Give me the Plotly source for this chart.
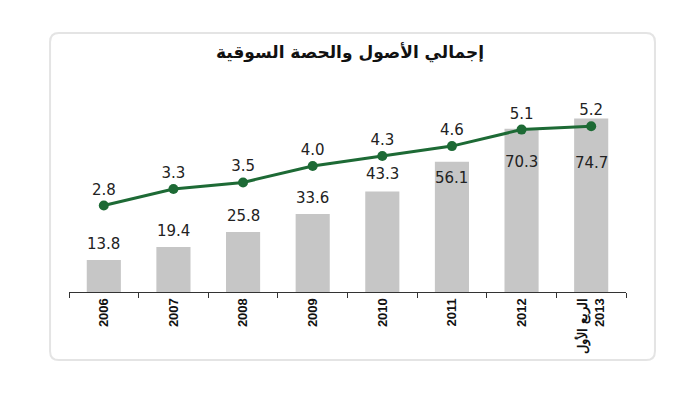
import plotly.graph_objects as go

categories = ["2006", "2007", "2008", "2009", "2010", "2011", "2012", "الربع الأول<br>2013"]
assets = [13.8, 19.4, 25.8, 33.6, 43.3, 56.1, 70.3, 74.7]
market_share = [2.8, 3.3, 3.5, 4.0, 4.3, 4.6, 5.1, 5.2]
title_text = "إجمالي الأصول والحصة السوقية"

# pixel offsets of the bar value labels (above bar for small bars, tucked under the line for tall ones)
bar_label_shift = [16, 16, 16, 16, 17, -16, -33, -44]

num_font = dict(family="DejaVu Sans", size=15, color="#222222")

fig = go.Figure()
fig.add_trace(go.Bar(
    x=categories, y=assets, width=0.49,
    marker=dict(color="#c6c6c6", line=dict(width=0)),
    showlegend=False, hoverinfo="y",
))
fig.add_trace(go.Scatter(
    x=categories, y=market_share, yaxis="y2", mode="lines+markers+text",
    line=dict(color="#1d6a35", width=3),
    marker=dict(color="#1d6a35", size=10),
    text=[f"{v:.1f}" for v in market_share], textposition="top center",
    textfont=num_font, cliponaxis=False, showlegend=False, hoverinfo="y",
))

for i, (v, s) in enumerate(zip(assets, bar_label_shift)):
    fig.add_annotation(x=i, y=v, xref="x", yref="y", text=f"{v:.1f}",
                       showarrow=False, yshift=s, yanchor="middle",
                       font=num_font)

# card background (rounded rectangle) in paper coords
x0, x1, y0, y1 = -0.034, 1.052, -0.337, 1.282
rx, ry = 0.016, 0.044
path = (f"M {x0+rx},{y0} L {x1-rx},{y0} Q {x1},{y0} {x1},{y0+ry} "
        f"L {x1},{y1-ry} Q {x1},{y1} {x1-rx},{y1} L {x0+rx},{y1} "
        f"Q {x0},{y1} {x0},{y1-ry} L {x0},{y0+ry} Q {x0},{y0} {x0+rx},{y0} Z")
fig.add_shape(type="path", path=path, xref="paper", yref="paper",
              line=dict(color="#e4e4e4", width=2), fillcolor="#ffffff", layer="below")

fig.update_layout(
    width=700, height=393,
    margin=dict(l=69, r=74, t=90, b=101, autoexpand=False),
    paper_bgcolor="#ffffff", plot_bgcolor="rgba(0,0,0,0)",
    title=dict(text=f"<b>{title_text}</b>", x=0.5, xanchor="center",
               y=1 - 52 / 393, yanchor="middle",
               font=dict(family="DejaVu Sans", size=17, color="#111111")),
    xaxis=dict(type="category", tickangle=-90, tickson="boundaries",
               ticks="outside", ticklen=5, tickcolor="#333333",
               showline=True, linecolor="#333333", linewidth=1,
               showgrid=False, zeroline=False, automargin=False,
               tickfont=dict(family="Liberation Sans, Arial", size=13, color="#111111"),
               range=[-0.5, 7.5]),
    yaxis=dict(range=[0, 87], visible=False, showgrid=False, automargin=False),
    yaxis2=dict(range=[0.18, 6.3], overlaying="y", visible=False, showgrid=False, automargin=False),
    bargap=0.5,
)
fig.update_xaxes(ticktext=[f"<b>{c}</b>" for c in categories], tickvals=categories)

fig.write_html("out.html", config={"displayModeBar": False},
               post_script="document.body.style.margin='0';")
